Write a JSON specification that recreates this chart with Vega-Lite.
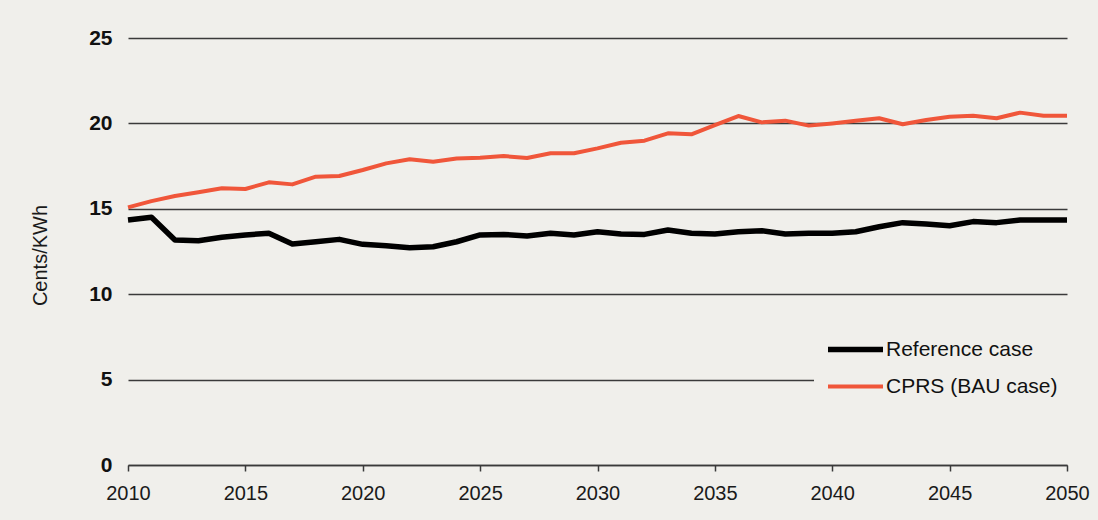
{
  "$schema": "https://vega.github.io/schema/vega-lite/v6.json",
  "autosize": {"type": "none"},
  "width": 939,
  "height": 427,
  "padding": {"left": 128, "top": 38, "right": 31, "bottom": 55},
  "background": "#f0efeb",
  "config": {
    "view": {"stroke": null},
    "font": "Liberation Sans"
  },
  "data": {
    "values": [
      {"year": 2010, "Reference case": 14.34, "CPRS (BAU case)": 15.08},
      {"year": 2011, "Reference case": 14.5, "CPRS (BAU case)": 15.45},
      {"year": 2012, "Reference case": 13.17, "CPRS (BAU case)": 15.75},
      {"year": 2013, "Reference case": 13.13, "CPRS (BAU case)": 15.97},
      {"year": 2014, "Reference case": 13.33, "CPRS (BAU case)": 16.2},
      {"year": 2015, "Reference case": 13.47, "CPRS (BAU case)": 16.16},
      {"year": 2016, "Reference case": 13.57, "CPRS (BAU case)": 16.55},
      {"year": 2017, "Reference case": 12.94, "CPRS (BAU case)": 16.43},
      {"year": 2018, "Reference case": 13.07, "CPRS (BAU case)": 16.88},
      {"year": 2019, "Reference case": 13.21, "CPRS (BAU case)": 16.92},
      {"year": 2020, "Reference case": 12.92, "CPRS (BAU case)": 17.27},
      {"year": 2021, "Reference case": 12.84, "CPRS (BAU case)": 17.66},
      {"year": 2022, "Reference case": 12.72, "CPRS (BAU case)": 17.9},
      {"year": 2023, "Reference case": 12.78, "CPRS (BAU case)": 17.76},
      {"year": 2024, "Reference case": 13.07, "CPRS (BAU case)": 17.95},
      {"year": 2025, "Reference case": 13.47, "CPRS (BAU case)": 17.99},
      {"year": 2026, "Reference case": 13.5, "CPRS (BAU case)": 18.09},
      {"year": 2027, "Reference case": 13.41, "CPRS (BAU case)": 17.97},
      {"year": 2028, "Reference case": 13.57, "CPRS (BAU case)": 18.25},
      {"year": 2029, "Reference case": 13.47, "CPRS (BAU case)": 18.25},
      {"year": 2030, "Reference case": 13.66, "CPRS (BAU case)": 18.54},
      {"year": 2031, "Reference case": 13.52, "CPRS (BAU case)": 18.87},
      {"year": 2032, "Reference case": 13.5, "CPRS (BAU case)": 18.99},
      {"year": 2033, "Reference case": 13.76, "CPRS (BAU case)": 19.42},
      {"year": 2034, "Reference case": 13.57, "CPRS (BAU case)": 19.36},
      {"year": 2035, "Reference case": 13.52, "CPRS (BAU case)": 19.9},
      {"year": 2036, "Reference case": 13.66, "CPRS (BAU case)": 20.43},
      {"year": 2037, "Reference case": 13.72, "CPRS (BAU case)": 20.06},
      {"year": 2038, "Reference case": 13.52, "CPRS (BAU case)": 20.16},
      {"year": 2039, "Reference case": 13.57, "CPRS (BAU case)": 19.87},
      {"year": 2040, "Reference case": 13.57, "CPRS (BAU case)": 20.0},
      {"year": 2041, "Reference case": 13.66, "CPRS (BAU case)": 20.16},
      {"year": 2042, "Reference case": 13.95, "CPRS (BAU case)": 20.3},
      {"year": 2043, "Reference case": 14.19, "CPRS (BAU case)": 19.95},
      {"year": 2044, "Reference case": 14.11, "CPRS (BAU case)": 20.2},
      {"year": 2045, "Reference case": 14.01, "CPRS (BAU case)": 20.39},
      {"year": 2046, "Reference case": 14.25, "CPRS (BAU case)": 20.45},
      {"year": 2047, "Reference case": 14.19, "CPRS (BAU case)": 20.3},
      {"year": 2048, "Reference case": 14.34, "CPRS (BAU case)": 20.63},
      {"year": 2049, "Reference case": 14.34, "CPRS (BAU case)": 20.45},
      {"year": 2050, "Reference case": 14.34, "CPRS (BAU case)": 20.45}
    ]
  },
  "transform": [
    {"fold": ["Reference case", "CPRS (BAU case)"], "as": ["series", "value"]}
  ],
  "mark": {"type": "line", "strokeJoin": "round"},
  "encoding": {
    "x": {
      "field": "year",
      "type": "quantitative",
      "scale": {"domain": [2010, 2050], "nice": false, "zero": false},
      "axis": {
        "title": null,
        "values": [2010, 2015, 2020, 2025, 2030, 2035, 2040, 2045, 2050],
        "format": "d",
        "grid": false,
        "domain": true,
        "domainColor": "#3a3a3a",
        "domainWidth": 1.5,
        "ticks": true,
        "tickColor": "#3a3a3a",
        "tickWidth": 1.5,
        "tickSize": 6,
        "labelFontSize": 20,
        "labelColor": "#1a1a1a",
        "labelPadding": 12,
        "labelFlush": false
      }
    },
    "y": {
      "field": "value",
      "type": "quantitative",
      "scale": {"domain": [0, 25], "nice": false},
      "axis": {
        "title": "Cents/KWh",
        "titleFontSize": 20,
        "titleFontWeight": "normal",
        "titleColor": "#1a1a1a",
        "titleX": -88,
        "titleY": 217,
        "titleBaseline": "middle",
        "titleAngle": 270,
        "values": [0, 5, 10, 15, 20, 25],
        "domain": false,
        "ticks": false,
        "grid": true,
        "gridColor": "#3a3a3a",
        "gridWidth": 1.5,
        "labelFontSize": 21,
        "labelFontWeight": "bold",
        "labelColor": "#111111",
        "labelPadding": 16
      }
    },
    "color": {
      "field": "series",
      "type": "nominal",
      "sort": ["Reference case", "CPRS (BAU case)"],
      "scale": {"domain": ["Reference case", "CPRS (BAU case)"], "range": ["#000000", "#f0563a"]},
      "legend": {
        "title": null,
        "orient": "none",
        "legendX": 686,
        "legendY": 270,
        "padding": 11,
        "fillColor": "#f0efeb",
        "symbolType": "stroke",
        "symbolSize": 3025,
        "symbolStrokeWidth": 5,
        "labelFontSize": 21,
        "labelLimit": 400,
        "labelColor": "#111111",
        "labelOffset": 0,
        "gridAlign": "none",
        "rowPadding": -4
      }
    },
    "strokeWidth": {
      "field": "series",
      "type": "nominal",
      "scale": {"domain": ["Reference case", "CPRS (BAU case)"], "range": [5.5, 4]},
      "legend": null
    }
  }
}
